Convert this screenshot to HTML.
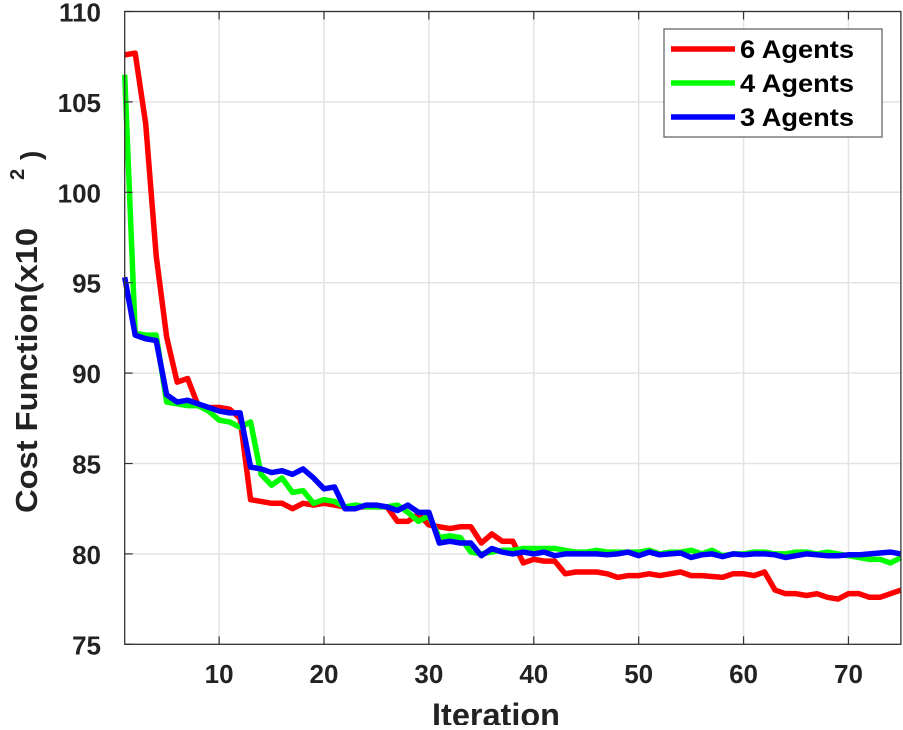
<!DOCTYPE html>
<html><head><meta charset="utf-8"><style>
body{margin:0;background:#fff;}
svg text{font-family:"Liberation Sans",sans-serif;font-weight:bold;fill:#222;}
</style></head><body>
<svg id="chart" width="903" height="725">
<g id="grid"></g><g id="series"></g><g id="axes"></g>
</svg>
<script>
const iterations=[];for(let i=1;i<=75;i++)iterations.push(i);
const agents6=[107.6,107.7,103.8,96.5,92,89.5,89.7,88.2,88.1,88.1,88,87.5,83,82.9,82.8,82.8,82.5,82.8,82.7,82.8,82.7,82.6,82.6,82.6,82.6,82.6,81.8,81.8,82.2,81.6,81.5,81.4,81.5,81.5,80.6,81.1,80.7,80.7,79.5,79.7,79.6,79.6,78.9,79,79,79,78.9,78.7,78.8,78.8,78.9,78.8,78.9,79,78.8,78.8,78.75,78.7,78.9,78.9,78.8,79,78,77.8,77.8,77.7,77.8,77.6,77.5,77.8,77.8,77.6,77.6,77.8,78];
const agents4=[106.5,92.2,92.1,92.1,88.4,88.3,88.2,88.2,87.9,87.4,87.3,87,87.3,84.4,83.8,84.2,83.4,83.5,82.8,83,82.9,82.6,82.7,82.6,82.6,82.6,82.7,82.3,81.8,82.1,80.9,81,80.9,80.1,80,80.1,80.2,80.2,80.3,80.3,80.3,80.3,80.2,80.1,80.1,80.2,80.1,80.1,80.1,80.1,80.2,80,80.1,80.1,80.2,80,80.2,79.9,80,80,80.1,80.1,80,80,80.1,80.1,80,80.1,80,79.9,79.8,79.7,79.7,79.5,79.8];
const agents3=[95.3,92.1,91.9,91.8,88.8,88.4,88.5,88.3,88.1,87.9,87.8,87.8,84.8,84.7,84.5,84.6,84.4,84.7,84.2,83.6,83.7,82.5,82.5,82.7,82.7,82.6,82.4,82.7,82.3,82.3,80.6,80.7,80.6,80.6,79.9,80.3,80.1,80,80.1,80,80.1,79.9,80,80,80,80,79.95,80,80.1,79.9,80.1,79.95,80,80.05,79.8,79.95,80,79.85,80,79.95,80,80,79.95,79.8,79.9,80,79.95,79.9,79.9,79.95,79.95,80,80.05,80.1,80];
const xTicks=[10,20,30,40,50,60,70];
const yTicks=[75,80,85,90,95,100,105,110];
const seriesNames=["6 Agents","4 Agents","3 Agents"];
const seriesColors=["#ff0000","#00ff00","#0000ff"];
const L=124.7,R=900.9,T=11.5,B=644.3;
const xS=v=>L+(v-1)*(R-L)/74;
const yS=v=>B-(v-75)*(B-T)/35;
const NS="http://www.w3.org/2000/svg";
function mk(tag,attrs,parent){const e=document.createElementNS(NS,tag);for(const k in attrs)e.setAttribute(k,attrs[k]);parent.appendChild(e);return e;}
const grid=document.getElementById('grid'),ser=document.getElementById('series'),ax=document.getElementById('axes');
xTicks.forEach(t=>{const l=mk('line',{x1:xS(t),x2:xS(t),y1:T,y2:B,stroke:'#e3e3e3','stroke-width':1.5},grid);


const tx=mk('text',{x:xS(t),y:683,'text-anchor':'middle','font-size':26},ax);tx.textContent=t;


mk('line',{x1:xS(t),x2:xS(t),y1:B,y2:B-8,stroke:'#333','stroke-width':1.2},ax);
mk('line',{x1:xS(t),x2:xS(t),y1:T,y2:T+8,stroke:'#333','stroke-width':1.2},ax);});
yTicks.forEach(t=>{const l=mk('line',{x1:L,x2:R,y1:yS(t),y2:yS(t),stroke:'#e3e3e3','stroke-width':1.5},grid);


const tx=mk('text',{x:101,y:yS(t)+10,'text-anchor':'end','font-size':26},ax);tx.textContent=t;


mk('line',{x1:L,x2:L+8,y1:yS(t),y2:yS(t),stroke:'#333','stroke-width':1.2},ax);});
const fr=mk('rect',{x:L,y:T,width:R-L,height:B-T,fill:'none',stroke:'#333','stroke-width':1.3},ax);


[agents6,agents4,agents3].forEach((d,si)=>{
const p=mk('polyline',{points:d.map((v,i)=>xS(iterations[i])+','+yS(v)).join(' '),fill:'none',stroke:seriesColors[si],'stroke-width':5.5,'stroke-linejoin':'round'},ser);

});
const lg=mk('g',{},ax);


mk('rect',{x:664,y:29,width:218,height:108,fill:'#fff',stroke:'#666','stroke-width':1.3},lg);
seriesNames.forEach((n,i)=>{const y=49+i*34;
mk('line',{x1:671,x2:735,y1:y,y2:y,stroke:seriesColors[i],'stroke-width':5.5},lg);
const t=mk('text',{x:740,y:y+9,'font-size':25,textLength:114,lengthAdjust:'spacingAndGlyphs',style:'fill:#000'},lg);t.textContent=n;

});
const xt=mk('text',{x:496,y:726,'text-anchor':'middle','font-size':32,textLength:128,lengthAdjust:'spacingAndGlyphs'},ax);xt.textContent='Iteration';


const yt=mk('text',{transform:'translate(37,513) rotate(-90)','font-size':31,textLength:285,lengthAdjust:'spacingAndGlyphs'},ax);
yt.textContent='Cost Function(x10';


const ys=mk('text',{transform:'translate(24,180) rotate(-90)','font-size':20},ax);ys.textContent='2';


const yp=mk('text',{transform:'translate(40,160) rotate(-90)','font-size':28},ax);yp.textContent=')';


</script>
</body></html>
